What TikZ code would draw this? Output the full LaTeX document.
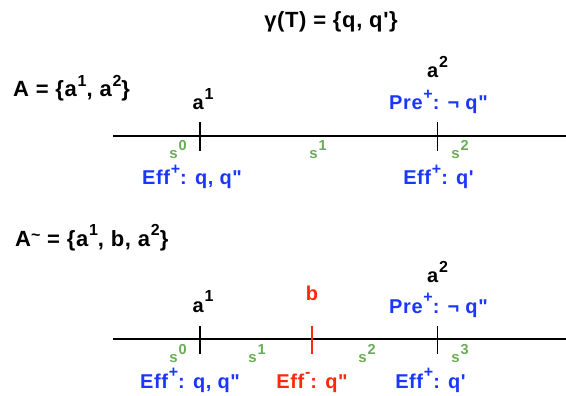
\documentclass[tikz,border=0pt]{standalone}
\usepackage{fontspec}
\setmainfont{Liberation Sans}[Ligatures=TeXOff, LetterSpace=3]
\usepackage{xcolor}
\usepackage{tikz}
\usetikzlibrary{positioning}

\definecolor{effblue}{RGB}{25,55,255}
\definecolor{stategreen}{RGB}{105,172,85}
\definecolor{delred}{RGB}{255,40,10}
\newcommand{\hi}[1]{\kern0.8pt\raisebox{10.5pt}{\fontsize{16}{16}\selectfont #1}}
\newcommand{\lo}[1]{\kern0.8pt\raisebox{8pt}{\fontsize{14.5}{14.5}\selectfont #1}}
\newcommand{\qs}{\char"27}
\newcommand{\qd}{\char"22}

\begin{document}
\begin{tikzpicture}[x=1pt, y=-1pt, font=\bfseries\fontsize{20}{24}\selectfont,
    lbl/.style={anchor=base, inner sep=0pt},
    head/.style={lbl, font=\bfseries\fontsize{22}{26}\selectfont},
    eff/.style={lbl, text=effblue},
    st/.style={lbl, text=stategreen, font=\bfseries\fontsize{15}{18}\selectfont},
    tick/.style={line width=1.2pt}]
    \useasboundingbox (0,0) rectangle (566,396);

    \node[head] (goal) at (331,28) {γ(T) = \{q, q\qs\}};

    % plan A
    \node[head, anchor=base west] (planA) at (13,97) {A = \{a\hi{1}, a\hi{2}\}};
    \coordinate (startA) at (113,136);
    \coordinate (endA) at (566,136);
    \draw[tick] (startA) -- (endA);
    \draw[tick] (200,122) -- (200,151);
    \draw[tick] (437.5,122) -- (437.5,151);

    \node[lbl] (aoneA) at (203,110) {a\hi{1}};
    \node[lbl] (atwoA) at (437.5,78) {a\hi{2}};
    \node[eff] (preA) at (438.5,110) {Pre\hi{+}: ¬ q\qd};
    \node[st] (szeroA) at (178,158) {s\lo{0}};
    \node[st] (soneA) at (318,158) {s\lo{1}};
    \node[st] (stwoA) at (460,158) {s\lo{2}};
    \node[eff] (effoneA) at (192,185) {Eff\hi{+}: q, q\qd};
    \node[eff] (efftwoA) at (438.5,185) {Eff\hi{+}: q\qs};

    % plan A~
    \node[head, anchor=base west] (planB) at (15,246) {A\raisebox{5.5pt}{\fontsize{16}{16}\selectfont\char"7E} = \{a\hi{1}, b, a\hi{2}\}};
    \coordinate (startB) at (113,339);
    \coordinate (endB) at (566,339);
    \draw[tick] (startB) -- (endB);
    \draw[tick] (200,326) -- (200,354);
    \draw[line width=2.5pt, delred] (312,326) -- (312,354);
    \draw[tick] (437.5,326) -- (437.5,354);

    \node[lbl] (aoneB) at (203,312) {a\hi{1}};
    \node[lbl, text=delred] (bB) at (312,300) {b};
    \node[lbl] (atwoB) at (437.5,283) {a\hi{2}};
    \node[eff] (preB) at (438.5,313) {Pre\hi{+}: ¬ q\qd};
    \node[st] (szeroB) at (178,362) {s\lo{0}};
    \node[st] (soneB) at (257,362) {s\lo{1}};
    \node[st] (stwoB) at (367,362) {s\lo{2}};
    \node[st] (sthreeB) at (460,362) {s\lo{3}};
    \node[eff] (effoneB) at (190,388) {Eff\hi{+}: q, q\qd};
    \node[lbl, text=delred] (effbB) at (312,388) {Eff\hi{-}: q\qd};
    \node[eff] (efftwoB) at (430.5,388) {Eff\hi{+}: q\qs};
\end{tikzpicture}
\end{document}
